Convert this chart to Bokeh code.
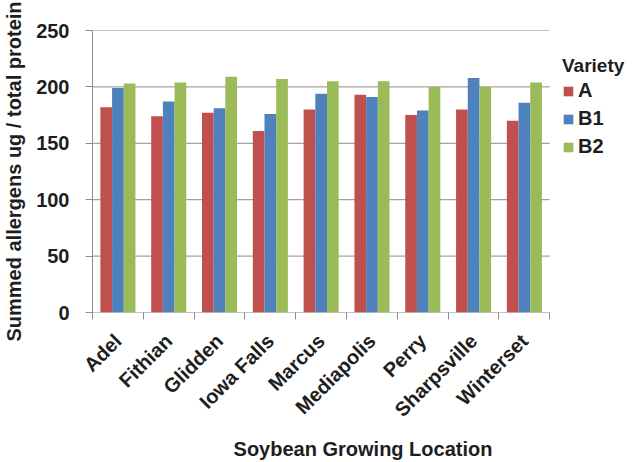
from math import pi
from bokeh.plotting import figure
from bokeh.models import ColumnDataSource, FixedTicker, Range1d, Legend, LegendItem
from bokeh.embed import file_html
from bokeh.resources import INLINE

locations = ["Adel", "Fithian", "Glidden", "Iowa Falls", "Marcus",
             "Mediapolis", "Perry", "Sharpsville", "Winterset"]
variety_a = [182, 174, 177, 161, 180, 193, 175, 180, 170]
variety_b1 = [199, 187, 181, 176, 194, 191, 179, 208, 186]
variety_b2 = [203, 204, 209, 207, 205, 205, 200, 200, 204]
series_names = ["A", "B1", "B2"]
series_colors = ["#C0504D", "#4F81BD", "#9BBB59"]
y_ticks = [0, 50, 100, 150, 200, 250]

FONT = "Liberation Sans"
TXT = "#1e1e1e"
GRAY = "#8c8c8c"

n = len(locations)
centers = [i + 0.5 for i in range(n)]
bw = 0.23

FIG_W, FIG_H = 633, 462
LEFT, RIGHT_PLOT = 90, 549          # frame left, end of category area (px)
x_end = n * (FIG_W - LEFT) / (RIGHT_PLOT - LEFT)   # room for legend inside frame

p = figure(width=FIG_W, height=FIG_H, output_backend="svg", toolbar_location=None,
           x_range=Range1d(0, x_end), y_range=Range1d(0, 250),
           min_border_left=LEFT, min_border_right=0, min_border_top=30,
           min_border_bottom=148)
p.outline_line_color = None
p.background_fill_color = "white"
p.border_fill_color = "white"

# horizontal gridlines only across the category area
p.xgrid.grid_line_color = None
p.ygrid.grid_line_color = None
p.segment(x0=[0] * len(y_ticks), x1=[n] * len(y_ticks), y0=y_ticks, y1=y_ticks,
          line_color=GRAY, line_width=1)

items = []
for k, (vals, name, col) in enumerate(zip([variety_a, variety_b1, variety_b2],
                                           series_names, series_colors)):
    src = ColumnDataSource(dict(x=[c + (k - 1) * bw for c in centers], top=vals))
    r = p.vbar(x="x", top="top", width=bw, bottom=0, source=src,
               fill_color=col, line_color=None)
    items.append(LegendItem(label=name, renderers=[r]))

# x axis
xa = p.xaxis[0]
xa.ticker = FixedTicker(ticks=centers, minor_ticks=list(range(n + 1)))
xa.major_label_overrides = {c: loc for c, loc in zip(centers, locations)}
xa.major_tick_out = 0
xa.major_tick_in = 0
xa.minor_tick_out = 7
xa.minor_tick_in = 0
xa.minor_tick_line_color = GRAY
xa.axis_line_color = None
xa.major_label_orientation = pi / 4
xa.major_label_text_font = FONT
xa.major_label_text_font_style = "bold"
xa.major_label_text_font_size = "20px"
xa.major_label_text_color = TXT
xa.major_label_standoff = 18
xa.axis_label = "Soybean Growing Location"
xa.axis_label_text_font = FONT
xa.axis_label_text_font_style = "bold"
xa.axis_label_text_font_size = "20px"
xa.axis_label_text_color = TXT
xa.axis_label_standoff = 6

# y axis
ya = p.yaxis[0]
ya.ticker = FixedTicker(ticks=y_ticks)
ya.minor_tick_line_color = None
ya.major_tick_out = 7
ya.major_tick_in = 0
ya.major_tick_line_color = GRAY
ya.axis_line_color = GRAY
ya.major_label_text_font = FONT
ya.major_label_text_font_style = "bold"
ya.major_label_text_font_size = "20px"
ya.major_label_text_color = TXT
ya.major_label_standoff = 16
ya.axis_label = "Summed allergens ug / total protein"
ya.axis_label_text_font = FONT
ya.axis_label_text_font_style = "bold"
ya.axis_label_text_font_size = "20px"
ya.axis_label_text_color = TXT
ya.axis_label_standoff = 8

legend = Legend(items=items, location=(470, 154), title="Variety")
legend.title_text_font = FONT
legend.title_text_font_style = "bold"
legend.title_text_font_size = "19px"
legend.title_text_color = TXT
legend.title_standoff = 2
legend.label_text_font = FONT
legend.label_text_font_style = "bold"
legend.label_text_font_size = "20px"
legend.label_text_color = TXT
legend.glyph_width = 12
legend.glyph_height = 12
legend.label_standoff = 4
legend.spacing = 5
legend.padding = 0
legend.margin = 0
legend.border_line_color = None
legend.background_fill_alpha = 0
p.add_layout(legend, "center")

open("out.html", "w").write(file_html(p, INLINE))
